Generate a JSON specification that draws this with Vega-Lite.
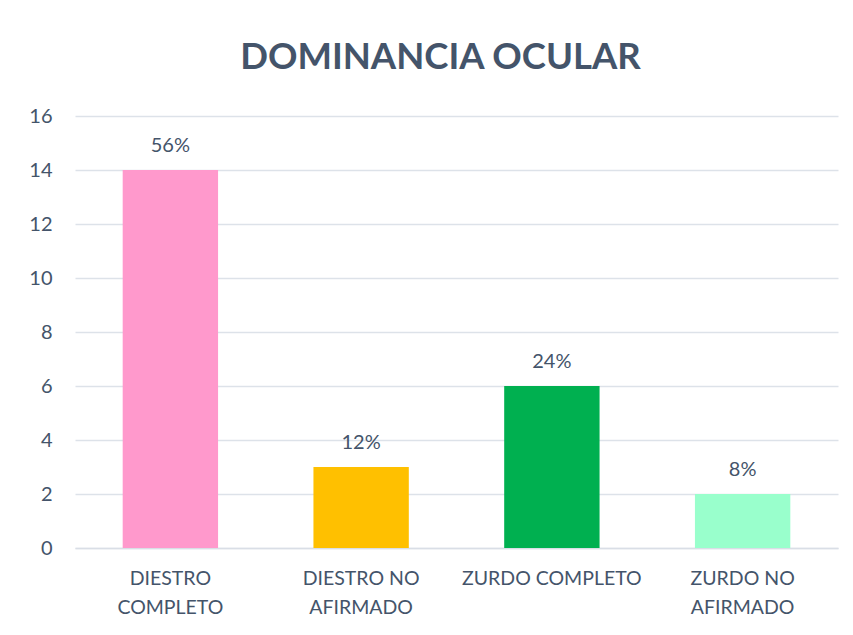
{
  "$schema": "https://vega.github.io/schema/vega-lite/v6.json",
  "width": 763,
  "height": 432,
  "autosize": "none",
  "padding": {"left": 75, "top": 116, "right": 15, "bottom": 87},
  "background": "white",
  "title": {
    "text": "DOMINANCIA OCULAR",
    "font": "Lato",
    "fontSize": 36.5,
    "fontWeight": "bold",
    "color": "#44546A",
    "anchor": "middle",
    "dx": -16,
    "offset": 44,
    "dy": 14
  },
  "data": {
    "values": [
      {"categoria": "DIESTRO COMPLETO", "n": 14, "pct": "56%"},
      {"categoria": "DIESTRO NO AFIRMADO", "n": 3, "pct": "12%"},
      {"categoria": "ZURDO COMPLETO", "n": 6, "pct": "24%"},
      {"categoria": "ZURDO NO AFIRMADO", "n": 2, "pct": "8%"}
    ]
  },
  "encoding": {
    "x": {
      "field": "categoria",
      "type": "nominal",
      "sort": null,
      "scale": {"paddingInner": 0.5, "paddingOuter": 0.25},
      "axis": {
        "title": null,
        "labelAngle": 0,
        "ticks": false,
        "domainColor": "#D9DEE6",
        "domainWidth": 1.5,
        "labelFont": "Lato",
        "labelFontSize": 19.5,
        "labelColor": "#44546A",
        "labelPadding": 21,
        "labelBaseline": "top",
        "labelLineHeight": 29,
        "labelLimit": 0,
        "labelOverlap": false,
        "labelExpr": "datum.value == 'DIESTRO COMPLETO' ? ['DIESTRO', 'COMPLETO'] : datum.value == 'DIESTRO NO AFIRMADO' ? ['DIESTRO NO', 'AFIRMADO'] : datum.value == 'ZURDO NO AFIRMADO' ? ['ZURDO NO', 'AFIRMADO'] : datum.value"
      }
    },
    "y": {
      "field": "n",
      "type": "quantitative",
      "scale": {"domain": [0, 16], "nice": false},
      "axis": {
        "title": null,
        "values": [0, 2, 4, 6, 8, 10, 12, 14, 16],
        "domain": false,
        "ticks": false,
        "gridColor": "#DDE2E9",
        "gridWidth": 1.5,
        "labelFont": "Lato",
        "labelFontSize": 20,
        "labelColor": "#44546A",
        "labelPadding": 23
      }
    }
  },
  "layer": [
    {
      "mark": {"type": "bar"},
      "encoding": {
        "color": {
          "field": "categoria",
          "type": "nominal",
          "sort": null,
          "scale": {
            "domain": ["DIESTRO COMPLETO", "DIESTRO NO AFIRMADO", "ZURDO COMPLETO", "ZURDO NO AFIRMADO"],
            "range": ["#FF99CC", "#FFC000", "#00B050", "#99FFCC"]
          },
          "legend": null
        }
      }
    },
    {
      "mark": {
        "type": "text",
        "font": "Lato",
        "fontSize": 20,
        "color": "#44546A",
        "baseline": "alphabetic",
        "dy": -18
      },
      "encoding": {"text": {"field": "pct"}}
    }
  ],
  "config": {"view": {"stroke": null}}
}
